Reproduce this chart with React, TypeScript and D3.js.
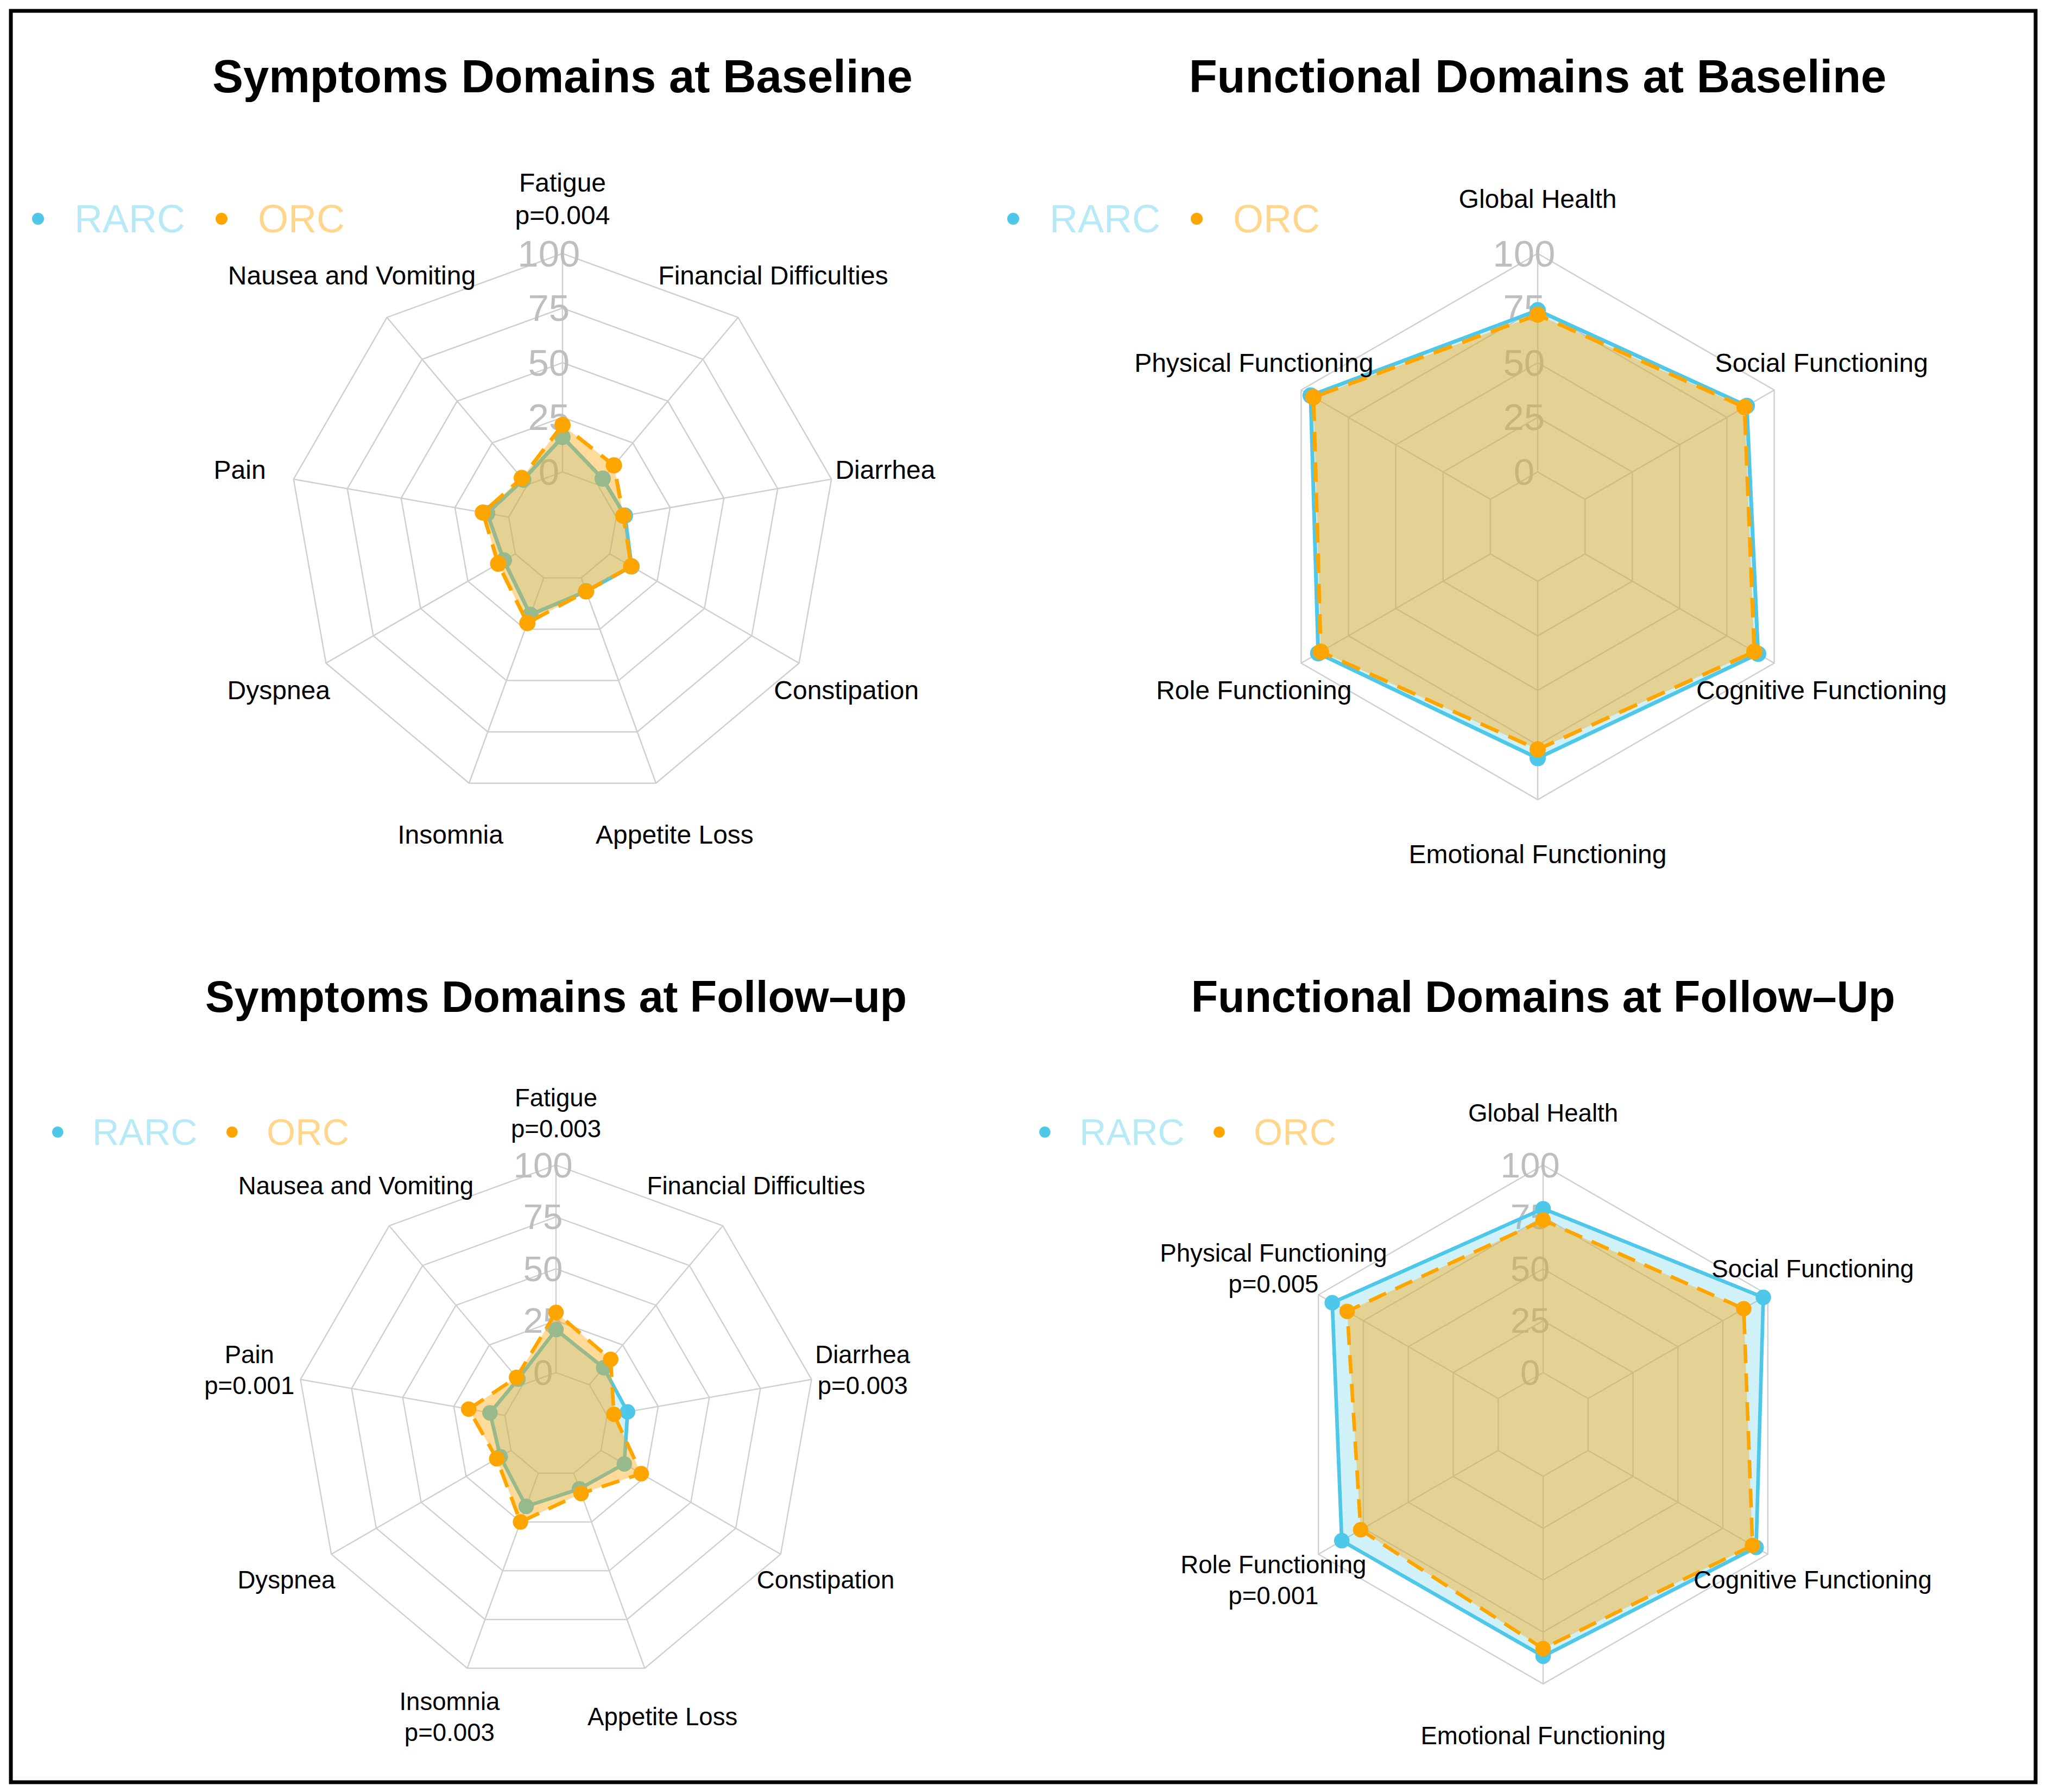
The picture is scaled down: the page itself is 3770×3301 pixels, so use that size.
import React, { useEffect } from 'react';
import * as d3 from 'd3';

// ---------- data ----------
const seriesNames = ['RARC', 'ORC'];
const tickValues = [0, 25, 50, 75, 100];

// axes listed in fmsb order (first at top, then counter-clockwise)
const symptomAxes = ['Fatigue', 'Nausea and Vomiting', 'Pain', 'Dyspnea', 'Insomnia', 'Appetite Loss', 'Constipation', 'Diarrhea', 'Financial Difficulties'];
const symptomBaselinePvalues = ['p=0.004', '', '', '', '', '', '', '', ''];
const symptomBaselineRARC = [16, 3, 10, 6, 18, 6.5, 11.5, 4, 3.6];
const symptomBaselineORC = [21.5, 4, 12, 9, 22, 6.6, 11.3, 3.3, 11.6];

const symptomFollowupPvalues = ['p=0.003', '', 'p=0.001', '', 'p=0.003', '', '', 'p=0.003', ''];
const symptomFollowupRARC = [20.7, 3.5, 7.3, 6, 17, 8, 13, 10, 10.7];
const symptomFollowupORC = [29, 4.6, 17.7, 8, 25, 10.4, 22.4, 3.3, 16];

const functionalAxes = ['Global Health', 'Physical Functioning', 'Role Functioning', 'Emotional Functioning', 'Cognitive Functioning', 'Social Functioning'];
const functionalBaselinePvalues = ['', '', '', '', '', ''];
const functionalBaselineRARC = [74, 95, 91, 81, 91.5, 85.5];
const functionalBaselineORC = [72, 93.5, 89.6, 77, 89.5, 84.3];

const functionalFollowupPvalues = ['', 'p=0.005', 'p=0.001', '', '', ''];
const functionalFollowupRARC = [79, 92.3, 87, 86.7, 93.5, 97.5];
const functionalFollowupORC = [73.5, 84, 76.5, 83, 91.5, 86.6];

const panelTitles = [
  'Symptoms Domains at Baseline',
  'Functional Domains at Baseline',
  'Symptoms Domains at Follow\u2013up',
  'Functional Domains at Follow\u2013Up',
];

// ---------- styles ----------
const FONT = '"Liberation Sans", Arial, Helvetica, sans-serif';
const CYAN = '#4EC7E8';
const ORANGE = '#FFA500';
const CYAN_FILL = 'rgba(78,199,232,0.26)';
const ORANGE_FILL = 'rgba(255,168,10,0.42)';
const CYAN_TEXT = 'rgba(78,199,232,0.4)';
const ORANGE_TEXT = 'rgba(255,165,0,0.45)';
const GRID = '#CFCFCF';
const TICK = '#BEBEBE';

type PanelProps = {
  title: string;
  axes: string[];
  pvalues: string[];
  rarc: number[];
  orc: number[];
  cx: number;
  cy: number;
  s: number;
};

function RadarPanel({ title, axes, pvalues, rarc, orc, cx, cy, s }: PanelProps) {
  const R = 503 * s;
  const n = axes.length;
  const r = d3.scaleLinear().domain([0, 100]).range([R / 5, R]);
  const angle = d3.scaleLinear().domain([0, n]).range([0, -2 * Math.PI]);
  const pt = (i: number, rad: number): [number, number] => [
    rad * Math.sin(angle(i)),
    -rad * Math.cos(angle(i)),
  ];
  const ring = d3
    .lineRadial<number>()
    .angle((_, i) => angle(i))
    .radius((d) => r(d))
    .curve(d3.curveLinearClosed);

  const lw = 7 * s;
  const ptR = 15 * s;
  const series = [
    { vals: rarc, stroke: CYAN, fill: CYAN_FILL, dash: undefined as string | undefined },
    { vals: orc, stroke: ORANGE, fill: ORANGE_FILL, dash: `${36 * s} ${20 * s}` },
  ];

  const labelFs = 48 * s;
  const labelLh = 60 * s;

  const legY = -567 * s;
  const legFs = 72 * s;

  return (
    <g transform={`translate(${cx},${cy})`}>
      {/* grid rings */}
      {tickValues.map((v) => (
        <path key={'ring' + v} d={ring(axes.map(() => v)) || ''} fill="none" stroke={GRID} strokeWidth={2.5 * s} />
      ))}
      {/* spokes */}
      {axes.map((a, i) => {
        const [x1, y1] = pt(i, r(0));
        const [x2, y2] = pt(i, r(100));
        return <line key={'sp' + i} x1={x1} y1={y1} x2={x2} y2={y2} stroke={GRID} strokeWidth={2.5 * s} />;
      })}
      {/* tick labels */}
      {tickValues.map((v) => (
        <text
          key={'tk' + v}
          x={-0.05 * R}
          y={-r(v)}
          textAnchor="middle"
          dominantBaseline="central"
          fontSize={69 * s}
          fill={TICK}
          fontFamily={FONT}
        >
          {v}
        </text>
      ))}
      {/* series */}
      {series.map((se, k) => (
        <g key={'se' + k}>
          <path d={ring(se.vals) || ''} fill={se.fill} stroke="none" />
          <path
            d={ring(se.vals) || ''}
            fill="none"
            stroke={se.stroke}
            strokeWidth={lw}
            strokeDasharray={se.dash}
            strokeLinejoin="round"
          />
          {se.vals.map((v, i) => {
            const [x, y] = pt(i, r(v));
            return <circle key={'pt' + i} cx={x} cy={y} r={ptR} fill={se.stroke} />;
          })}
        </g>
      ))}
      {/* axis labels */}
      {axes.map((a, i) => {
        const [x, y] = pt(i, 1.2 * R);
        const lines = [a, pvalues[i]].filter((t) => t);
        return (
          <text key={'lb' + i} x={x} y={y} textAnchor="middle" fontSize={labelFs} fontFamily={FONT} fill="#000">
            {lines.map((t, j) => (
              <tspan key={j} x={x} y={y + (j - (lines.length - 1) / 2) * labelLh} dominantBaseline="central">
                {t}
              </tspan>
            ))}
          </text>
        );
      })}
      {/* title */}
      <text x={0} y={-800 * s} textAnchor="middle" fontSize={85 * s} fontWeight="bold" fontFamily={FONT} fill="#000">
        {title}
      </text>
      {/* legend */}
      <g>
        <circle cx={-966 * s} cy={legY} r={11 * s} fill={CYAN} />
        <text x={-899 * s} y={legY} dominantBaseline="central" fontSize={legFs} fontFamily={FONT} fill={CYAN_TEXT}>
          {seriesNames[0]}
        </text>
        <circle cx={-628 * s} cy={legY} r={11 * s} fill={ORANGE} />
        <text x={-561 * s} y={legY} dominantBaseline="central" fontSize={legFs} fontFamily={FONT} fill={ORANGE_TEXT}>
          {seriesNames[1]}
        </text>
      </g>
    </g>
  );
}

export default function App() {
  useEffect(() => {
    document.body.style.margin = '0';
    document.body.style.overflow = 'hidden';
  }, []);
  const W = 3770;
  const H = 3301;
  return (
    <svg
      width={W}
      height={H}
      viewBox={`0 0 ${W} ${H}`}
      style={{ position: 'absolute', left: 0, top: 0, display: 'block', background: '#fff' }}
    >
      <rect x={0} y={0} width={W} height={H} fill="#fff" />
      <RadarPanel
        title={panelTitles[0]}
        axes={symptomAxes}
        pvalues={symptomBaselinePvalues}
        rarc={symptomBaselineRARC}
        orc={symptomBaselineORC}
        cx={1036}
        cy={970}
        s={1}
      />
      <RadarPanel
        title={panelTitles[1]}
        axes={functionalAxes}
        pvalues={functionalBaselinePvalues}
        rarc={functionalBaselineRARC}
        orc={functionalBaselineORC}
        cx={2832}
        cy={970}
        s={1}
      />
      <RadarPanel
        title={panelTitles[2]}
        axes={symptomAxes}
        pvalues={symptomFollowupPvalues}
        rarc={symptomFollowupRARC}
        orc={symptomFollowupORC}
        cx={1024}
        cy={2624}
        s={0.95}
      />
      <RadarPanel
        title={panelTitles[3]}
        axes={functionalAxes}
        pvalues={functionalFollowupPvalues}
        rarc={functionalFollowupRARC}
        orc={functionalFollowupORC}
        cx={2842}
        cy={2624}
        s={0.95}
      />
      <rect x={20} y={20} width={3729} height={3263} fill="none" stroke="#000" strokeWidth={7} />
    </svg>
  );
}
